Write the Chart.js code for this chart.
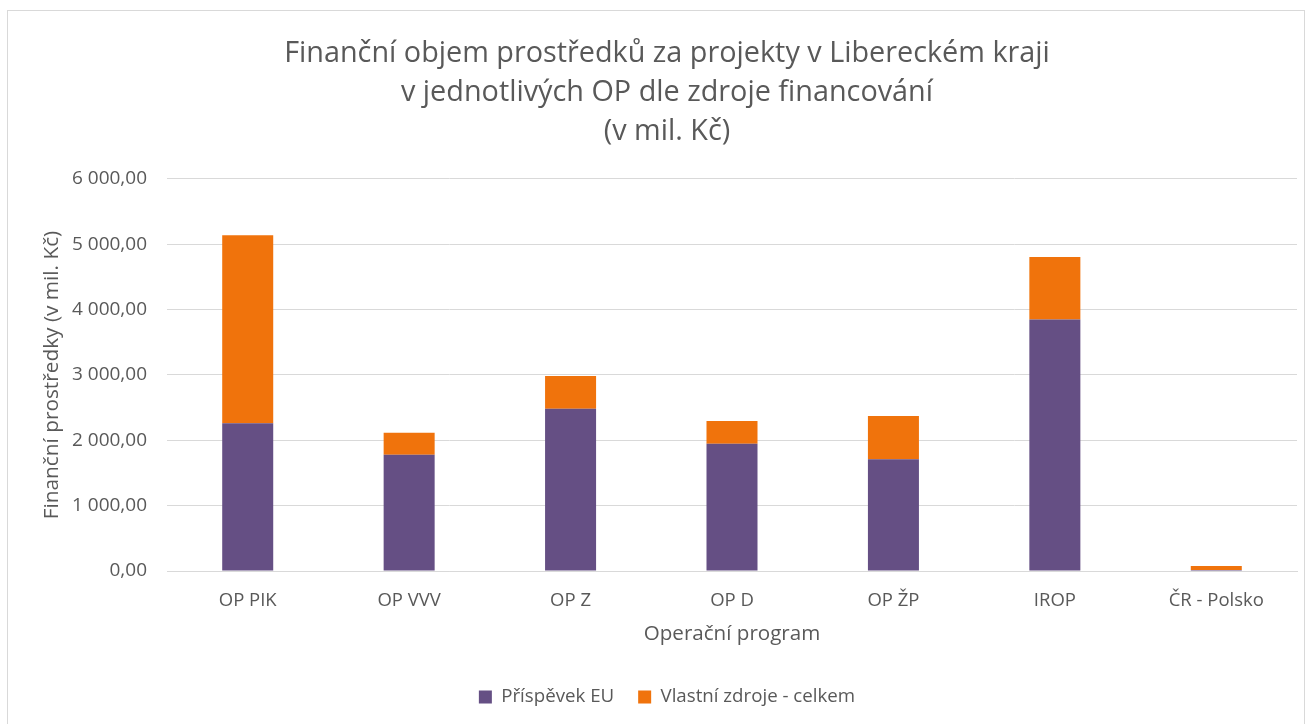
<!DOCTYPE html>
<html>
<head>
<meta charset="utf-8">
<script src="https://cdn.jsdelivr.net/npm/chart.js@4.4.0/dist/chart.umd.min.js"></script>
<style>
html,body{margin:0;padding:0;background:#fff;}
#wrap{position:relative;width:1309px;height:724px;}
</style>
</head>
<body>
<div id="wrap"><canvas id="c" width="1309" height="724"></canvas></div>
<script>
const categories = ["OP PIK", "OP VVV", "OP Z", "OP D", "OP ŽP", "IROP", "ČR - Polsko"];
const euContribution = [2260, 1780, 2482, 1949, 1712, 3851, 15];
const ownSources = [2878, 336, 503, 348, 662, 956, 60];
const seriesNames = ["Příspěvek EU", "Vlastní zdroje - celkem"];
const titleLines = ["Finanční objem prostředků za projekty v Libereckém kraji", "v jednotlivých OP dle zdroje financování", "(v mil. Kč)"];
const yAxisTitle = "Finanční prostředky (v mil. Kč)";
const xAxisTitle = "Operační program";

const FONT = "'Open Sans', Lato, sans-serif";
const TXT = "#595959";

function czFormat(v) {
  const s = Number(v).toFixed(2).split(".");
  const int = s[0].replace(/\B(?=(\d{3})+(?!\d))/g, " ");
  return int + "," + s[1];
}

const frame = {
  id: "frame",
  beforeDraw(chart) {
    const ctx = chart.ctx;
    ctx.save();
    ctx.fillStyle = "#fff";
    ctx.fillRect(0, 0, chart.width, chart.height);
    ctx.strokeStyle = "#d9d9d9";
    ctx.lineWidth = 1;
    ctx.strokeRect(7.5, 10.5, 1297, 730);
    ctx.restore();
  }
};

new Chart(document.getElementById("c"), {
  type: "bar",
  data: {
    labels: categories,
    datasets: [
      { label: seriesNames[0], data: euContribution, backgroundColor: "#654f84", borderWidth: 0 },
      { label: seriesNames[1], data: ownSources, backgroundColor: "#f0730c", borderWidth: 0 }
    ]
  },
  plugins: [frame],
  options: {
    responsive: false,
    animation: false,
    devicePixelRatio: 1,
    layout: { padding: { left: 37, right: 12, top: 0, bottom: 7.65 } },
    datasets: { bar: { barPercentage: 0.316, categoryPercentage: 1 } },
    plugins: {
      title: {
        display: true,
        text: titleLines,
        color: TXT,
        font: { family: FONT, size: 28.8, weight: "normal", lineHeight: 1.354 },
        padding: { top: 34, bottom: 28 }
      },
      legend: {
        position: "bottom",
        labels: {
          color: TXT,
          font: { family: FONT, size: 18.7 },
          boxWidth: 13,
          boxHeight: 13,
          padding: 24
        }
      },
      tooltip: { enabled: false }
    },
    scales: {
      x: {
        stacked: true,
        grid: { display: false, drawTicks: false },
        border: { display: true, color: "#d9d9d9", width: 1 },
        ticks: { color: TXT, font: { family: FONT, size: 18.5 }, padding: 19, maxRotation: 0 },
        title: { display: true, text: xAxisTitle, color: TXT, font: { family: FONT, size: 20.6 }, padding: { top: 0, bottom: 17.25 } },
        afterFit(scale) { scale.height = 92.65; }
      },
      y: {
        stacked: true,
        min: 0,
        max: 6000,
        grid: { color: "#d9d9d9", drawTicks: false, lineWidth: 1 },
        border: { display: false },
        ticks: { stepSize: 1000, color: TXT, font: { family: FONT, size: 19 }, padding: 20, callback: (v) => czFormat(v) },
        title: { display: true, text: yAxisTitle, color: TXT, font: { family: FONT, size: 20.8 }, padding: { top: 2.5, bottom: 0 } },
        afterFit(scale) { scale.width = 130; }
      }
    }
  }
});
</script>
</body>
</html>
